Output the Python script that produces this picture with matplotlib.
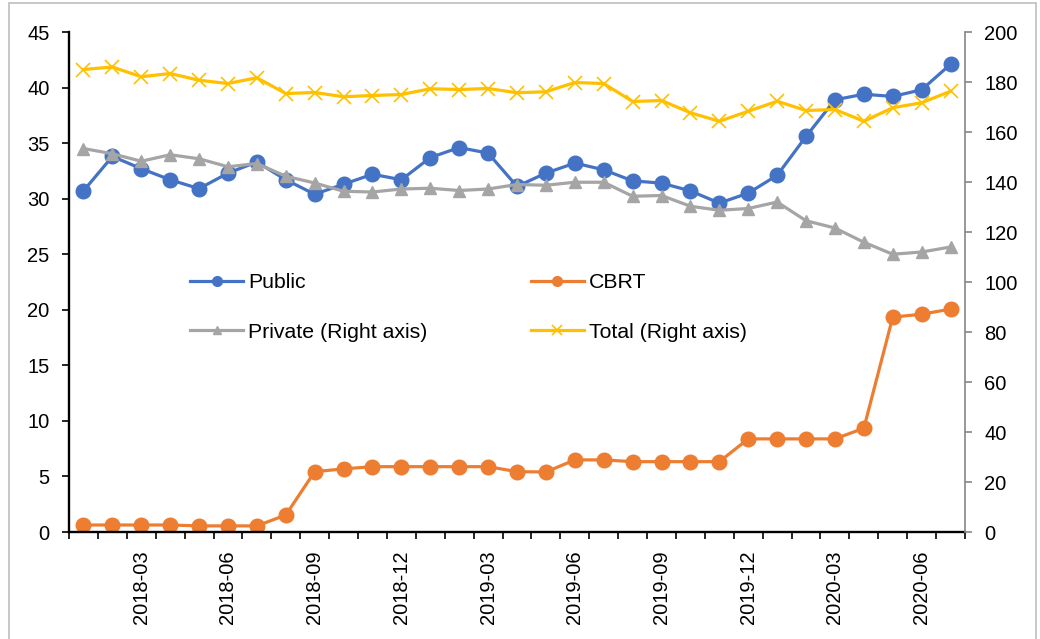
import matplotlib
matplotlib.use("Agg")
import matplotlib.pyplot as plt
from matplotlib.patches import Rectangle
from matplotlib.lines import Line2D

plt.rcParams['font.family'] = ['Liberation Sans', 'DejaVu Sans']

months = ["2018-01", "2018-02", "2018-03", "2018-04", "2018-05", "2018-06",
          "2018-07", "2018-08", "2018-09", "2018-10", "2018-11", "2018-12",
          "2019-01", "2019-02", "2019-03", "2019-04", "2019-05", "2019-06",
          "2019-07", "2019-08", "2019-09", "2019-10", "2019-11", "2019-12",
          "2020-01", "2020-02", "2020-03", "2020-04", "2020-05", "2020-06",
          "2020-07"]

public = [30.7, 33.8, 32.7, 31.7, 30.9, 32.3, 33.3, 31.7, 30.4, 31.3,
          32.2, 31.7, 33.7, 34.6, 34.1, 31.1, 32.3, 33.2, 32.6, 31.6,
          31.4, 30.7, 29.6, 30.5, 32.1, 35.6, 38.9, 39.4, 39.2, 39.8, 42.1]

cbrt = [0.63, 0.63, 0.63, 0.63, 0.55, 0.55, 0.55, 1.53, 5.43, 5.68,
        5.88, 5.88, 5.88, 5.88, 5.88, 5.43, 5.40, 6.49, 6.49, 6.33,
        6.33, 6.33, 6.33, 8.38, 8.38, 8.38, 8.38, 9.34, 19.34, 19.6, 20.06]

private = [153.4, 151.3, 148.3, 150.9, 149.3, 146.1, 147.4, 142.3, 139.6, 136.3,
           136.0, 137.2, 137.5, 136.6, 137.2, 139.0, 138.7, 139.9, 139.9, 134.3,
           134.6, 130.3, 128.7, 129.4, 132.0, 124.5, 121.6, 115.9, 111.1, 112.0, 114.0]

total = [185.0, 186.0, 182.1, 183.4, 180.7, 179.4, 181.7, 175.4, 175.8, 174.1,
         174.6, 175.0, 177.3, 177.0, 177.4, 175.7, 176.1, 179.8, 179.4, 172.2,
         172.6, 167.7, 164.3, 168.3, 172.3, 168.6, 169.0, 164.3, 169.7, 171.7, 176.3]

labels = ["Public", "CBRT", "Private (Right axis)", "Total (Right axis)"]
left_ticks = [0, 5, 10, 15, 20, 25, 30, 35, 40, 45]
right_ticks = [0, 20, 40, 60, 80, 100, 120, 140, 160, 180, 200]

C_PUB = "#4472C4"
C_CB = "#ED7D31"
C_PRI = "#A5A5A5"
C_TOT = "#FFC000"
FS = 14.5
LFS = 15.3

W, H = 1040, 639
fig = plt.figure(figsize=(W / 100, H / 100), dpi=100)
fig.patches.append(Rectangle((9 / W, -0.1), (1036 - 9) / W, 1.1 - 3 / H,
                             transform=fig.transFigure, fill=False,
                             edgecolor="#BFBFBF", linewidth=1.2))

x0, x1 = 69, 965
y0, y1 = 32, 532
ax = fig.add_axes([x0 / W, 1 - y1 / H, (x1 - x0) / W, (y1 - y0) / H])
ax2 = ax.twinx()

x = list(range(len(months)))

ax.plot(x, public, color=C_PUB, lw=2.3, marker="o", ms=10.5, label=labels[0])
ax.plot(x, cbrt, color=C_CB, lw=2.3, marker="o", ms=10.5, label=labels[1])
ax2.plot(x, private, color=C_PRI, lw=2.3, marker="^", ms=9, label=labels[2])
ax2.plot(x, total, color=C_TOT, lw=2.3, marker="x", ms=10, mew=1.2, label=labels[3])

ax.set_xlim(-0.5, len(months) - 0.5)
ax.set_ylim(0, 45)
ax2.set_ylim(0, 200)
ax.set_yticks(left_ticks)
ax2.set_yticks(right_ticks)

major = [i for i in x if months[i][5:] in ("03", "06", "09", "12")]
ax.set_xticks(major)
ax.set_xticklabels([months[i] for i in major], rotation=90, fontsize=FS)
ax.set_xticks([i - 0.5 for i in range(len(months) + 1)], minor=True)
ax.tick_params(axis="x", which="major", length=0, pad=13)
ax.tick_params(axis="x", which="minor", length=5, width=1.2, color="black")
ax.tick_params(axis="y", length=5, width=1.2, color="black", pad=9, labelsize=FS)
ax2.tick_params(axis="y", length=5, width=1.2, color="#868686", pad=9, labelsize=FS)

for a in (ax, ax2):
    a.spines["top"].set_visible(False)
ax.spines["right"].set_visible(False)
ax2.spines["left"].set_visible(False)
ax2.spines["bottom"].set_visible(False)
ax.spines["left"].set_linewidth(1.7)
ax.spines["bottom"].set_linewidth(1.7)
ax2.spines["right"].set_color("#868686")
ax2.spines["right"].set_linewidth(1.2)

handles = [
    Line2D([], [], color=C_PUB, lw=2.3, marker="o", ms=7),
    Line2D([], [], color=C_PRI, lw=2.3, marker="^", ms=6),
    Line2D([], [], color=C_CB, lw=2.3, marker="o", ms=7),
    Line2D([], [], color=C_TOT, lw=2.3, marker="x", ms=6.5, mew=1.2),
]
leg_labels = [labels[0], labels[2], labels[1], labels[3]]
ax2.legend(handles, leg_labels, ncol=2, loc="upper left",
           bbox_to_anchor=(190 / W, 1 - 273 / H), bbox_transform=fig.transFigure,
           frameon=False, fontsize=LFS, handlelength=2.5, handletextpad=0.24,
           columnspacing=4.85, labelspacing=1.45, borderpad=0, borderaxespad=0)

fig.savefig("out.png", dpi=100)
